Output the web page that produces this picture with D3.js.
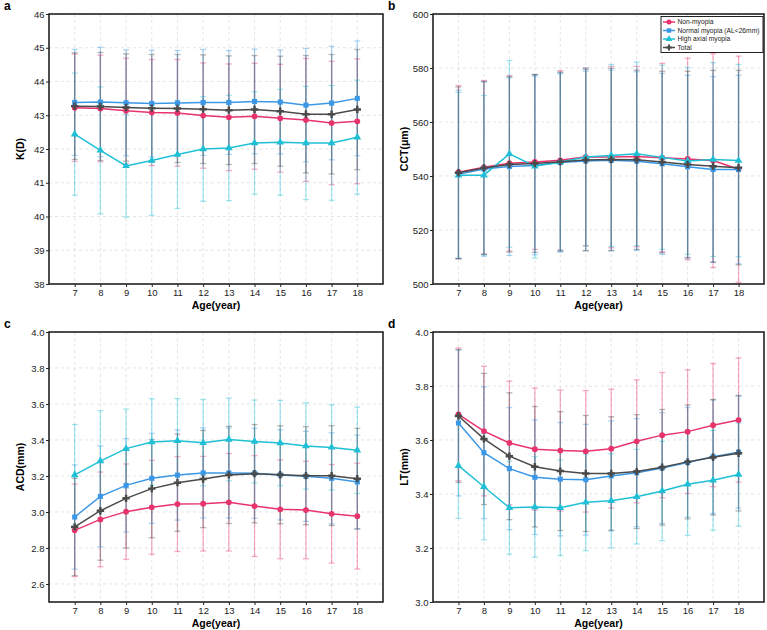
<!DOCTYPE html>
<meta charset="utf-8">
<style>
body { margin: 0; background: #fff; }
svg { font-family: "Liberation Sans", Arial, sans-serif; }
.grid line { stroke: #d9d9d9; stroke-width: 0.7px; stroke-dasharray: 3,3; }
.tick text { font-size: 9.5px; fill: #222; }
.axis path { display: none; }
.axis line { stroke: #222; }
</style>
<body>
<script src="https://d3js.org/d3.v7.min.js"></script>
<script>
var ages = [7, 8, 9, 10, 11, 12, 13, 14, 15, 16, 17, 18];
var seriesNames = ["Non-myopia", "Normal myopia (AL<26mm)", "High axial myopia", "Total"];

// K(D)
var kNon = [43.22, 43.20, 43.13, 43.08, 43.07, 42.99, 42.94, 42.97, 42.91, 42.86, 42.77, 42.82];
var kNonSD = [1.59, 1.58, 1.56, 1.57, 1.58, 1.56, 1.58, 1.57, 1.60, 1.82, 1.83, 1.85];
var kNorm = [43.38, 43.39, 43.37, 43.35, 43.36, 43.38, 43.38, 43.41, 43.39, 43.30, 43.36, 43.50];
var kNormSD = [1.57, 1.62, 1.57, 1.58, 1.56, 1.57, 1.54, 1.55, 1.54, 1.68, 1.68, 1.70];
var kHigh = [42.44, 41.96, 41.50, 41.66, 41.84, 42.00, 42.03, 42.18, 42.20, 42.18, 42.18, 42.35];
var kHighSD = [1.81, 1.88, 1.52, 1.63, 1.60, 1.55, 1.56, 1.52, 1.57, 1.68, 1.70, 1.69];
var kTotal = [43.27, 43.26, 43.23, 43.21, 43.20, 43.18, 43.15, 43.17, 43.12, 43.03, 43.03, 43.17];
var kTotalSD = [1.58, 1.60, 1.59, 1.59, 1.60, 1.61, 1.61, 1.60, 1.63, 1.74, 1.77, 1.78];

// CCT(um)
var cNon = [541.4, 543.2, 544.7, 545.2, 545.8, 547.1, 547.0, 547.2, 546.8, 546.3, 545.7, 542.5];
var cNonSD = [32.1, 32.2, 32.5, 32.4, 33.2, 33.0, 33.6, 33.4, 34.9, 37.3, 39.6, 41.9];
var cNorm = [540.6, 542.6, 543.5, 543.9, 545.0, 545.6, 545.8, 545.5, 544.5, 543.4, 542.4, 542.4];
var cNormSD = [31.2, 32.3, 32.9, 33.1, 33.2, 33.2, 33.4, 33.1, 33.5, 33.9, 34.4, 34.9];
var cHigh = [540.3, 540.3, 548.2, 543.6, 545.2, 547.0, 547.6, 548.2, 546.9, 545.6, 546.1, 545.7];
var cHighSD = [30.7, 29.5, 34.6, 34.0, 32.7, 32.9, 33.7, 34.0, 34.1, 34.6, 35.9, 35.6];
var cTotal = [541.2, 543.0, 544.3, 544.6, 545.3, 545.9, 546.1, 546.0, 545.2, 544.3, 543.6, 543.1];
var cTotalSD = [31.8, 32.0, 32.5, 32.9, 33.2, 33.6, 33.8, 33.2, 33.6, 34.5, 35.5, 36.0];

// ACD(mm)
var aNon = [2.898, 2.959, 3.002, 3.026, 3.044, 3.046, 3.054, 3.033, 3.015, 3.011, 2.990, 2.977];
var aNonSD = [0.257, 0.263, 0.265, 0.261, 0.264, 0.263, 0.271, 0.280, 0.275, 0.271, 0.274, 0.294];
var aNorm = [2.972, 3.087, 3.148, 3.187, 3.205, 3.217, 3.217, 3.215, 3.206, 3.198, 3.187, 3.167];
var aNormSD = [0.29, 0.28, 0.26, 0.25, 0.25, 0.25, 0.25, 0.25, 0.25, 0.25, 0.253, 0.26];
var aHigh = [3.206, 3.283, 3.352, 3.389, 3.396, 3.385, 3.403, 3.392, 3.383, 3.367, 3.359, 3.343];
var aHighSD = [0.28, 0.28, 0.22, 0.24, 0.234, 0.24, 0.23, 0.23, 0.237, 0.24, 0.237, 0.24];
var aTotal = [2.917, 3.007, 3.076, 3.130, 3.163, 3.183, 3.206, 3.213, 3.207, 3.202, 3.202, 3.185];
var aTotalSD = [0.27, 0.275, 0.276, 0.273, 0.27, 0.27, 0.27, 0.273, 0.272, 0.272, 0.277, 0.28];

// LT(mm)
var lNon = [3.695, 3.633, 3.589, 3.566, 3.561, 3.558, 3.568, 3.595, 3.618, 3.631, 3.655, 3.674];
var lNonSD = [0.246, 0.240, 0.229, 0.226, 0.224, 0.225, 0.220, 0.228, 0.232, 0.229, 0.228, 0.230];
var lNorm = [3.663, 3.553, 3.494, 3.462, 3.455, 3.453, 3.467, 3.479, 3.496, 3.517, 3.538, 3.555];
var lNormSD = [0.270, 0.244, 0.226, 0.212, 0.210, 0.205, 0.204, 0.200, 0.205, 0.203, 0.210, 0.207];
var lHigh = [3.505, 3.427, 3.349, 3.352, 3.349, 3.369, 3.375, 3.390, 3.411, 3.436, 3.451, 3.472];
var lHighSD = [0.195, 0.197, 0.172, 0.186, 0.177, 0.179, 0.174, 0.175, 0.184, 0.189, 0.185, 0.191];
var lTotal = [3.689, 3.604, 3.540, 3.501, 3.485, 3.476, 3.476, 3.483, 3.499, 3.519, 3.536, 3.551];
var lTotalSD = [0.246, 0.243, 0.235, 0.223, 0.220, 0.215, 0.210, 0.211, 0.214, 0.211, 0.214, 0.214];

var kTicks = [38, 39, 40, 41, 42, 43, 44, 45, 46];
var cTicks = [500, 520, 540, 560, 580, 600];
var aTicks = [2.6, 2.8, 3.0, 3.2, 3.4, 3.6, 3.8, 4.0];
var lTicks = [3.0, 3.2, 3.4, 3.6, 3.8, 4.0];

var colors = ["#e8336d", "#3a98e6", "#1fc0d6", "#4a4a4a"];
var symbols = [d3.symbolCircle, d3.symbolSquare, d3.symbolTriangle, d3.symbolCross];
var symSize = [26, 26, 26, 30];

var svg = d3.select("body").append("svg")
    .attr("width", 767)
    .attr("height", 630);

function panel(cfg) {
  var w = cfg.x1 - cfg.x0, h = cfg.y1 - cfg.y0;
  var g = svg.append("g").attr("transform", "translate(" + cfg.x0 + "," + cfg.y0 + ")");

  var x = d3.scaleLinear().domain([6, 19]).range([0, w]);
  var y = d3.scaleLinear().domain(cfg.domain).range([h, 0]);

  // grid
  var grid = g.append("g").attr("class", "grid");
  grid.selectAll(".gx").data(ages).enter().append("line")
      .attr("x1", function(d) { return x(d); }).attr("x2", function(d) { return x(d); })
      .attr("y1", 0).attr("y2", h);
  grid.selectAll(".gy").data(cfg.ticks).enter().append("line")
      .attr("x1", 0).attr("x2", w)
      .attr("y1", function(d) { return y(d); }).attr("y2", function(d) { return y(d); });

  var clipId = "clip" + cfg.label;
  g.append("clipPath").attr("id", clipId).append("rect").attr("width", w).attr("height", h);
  var plot = g.append("g").attr("clip-path", "url(#" + clipId + ")");

  // error bars (mean +/- SD)
  cfg.series.forEach(function(s, i) {
    var eb = plot.append("g")
        .attr("stroke", colors[i]).attr("stroke-opacity", 0.4).attr("stroke-width", 1.3);
    ages.forEach(function(a, j) {
      var lo = y(s.mean[j] - s.sd[j]), hi = y(s.mean[j] + s.sd[j]), cx = x(a);
      eb.append("line").attr("x1", cx).attr("x2", cx).attr("y1", lo).attr("y2", hi);
      eb.append("line").attr("x1", cx - 3).attr("x2", cx + 3).attr("y1", lo).attr("y2", lo);
      eb.append("line").attr("x1", cx - 3).attr("x2", cx + 3).attr("y1", hi).attr("y2", hi);
    });
  });

  // mean lines and markers
  var line = d3.line().x(function(d, j) { return x(ages[j]); }).y(function(d) { return y(d); });
  cfg.series.forEach(function(s, i) {
    plot.append("path").datum(s.mean)
        .attr("fill", "none").attr("stroke", colors[i]).attr("stroke-width", 1.5)
        .attr("d", line);
    plot.selectAll(".m" + i).data(s.mean).enter().append("path")
        .attr("transform", function(d, j) { return "translate(" + x(ages[j]) + "," + y(d) + ")"; })
        .attr("d", d3.symbol().type(symbols[i]).size(symSize[i]))
        .attr("fill", colors[i]);
  });

  // axes
  g.append("g").attr("class", "axis")
      .attr("transform", "translate(0," + h + ")")
      .call(d3.axisBottom(x).tickValues(ages).tickSize(3).tickPadding(2).tickFormat(d3.format("d")));
  g.append("g").attr("class", "axis")
      .call(d3.axisLeft(y).tickValues(cfg.ticks).tickSize(3).tickPadding(1.5).tickFormat(d3.format(cfg.fmt)));

  g.append("rect").attr("width", w).attr("height", h)
      .attr("fill", "none").attr("stroke", "#222").attr("stroke-width", 1.6);

  g.append("text").attr("x", w / 2).attr("y", h + 25)
      .attr("text-anchor", "middle").attr("font-size", 10.5).attr("font-weight", "bold")
      .text("Age(year)");
  g.append("text")
      .attr("transform", "translate(" + (-25) + "," + (h / 2) + ") rotate(-90)")
      .attr("text-anchor", "middle").attr("font-size", 10.5).attr("font-weight", "bold")
      .text(cfg.ylabel);
  svg.append("text").attr("x", cfg.x0 - 45).attr("y", cfg.y0 - 4.5)
      .attr("font-size", 12).attr("font-weight", "bold").text(cfg.label);

  if (cfg.legend) {
    var lg = g.append("g").attr("transform", "translate(" + (w - 103) + ",2.5)");
    lg.append("rect").attr("width", 102).attr("height", 36)
        .attr("fill", "#fff").attr("stroke", "#222").attr("stroke-width", 1);
    seriesNames.forEach(function(n, i) {
      var ly = 5.5 + i * 8.5;
      lg.append("line").attr("x1", 2).attr("x2", 14).attr("y1", ly).attr("y2", ly)
          .attr("stroke", colors[i]).attr("stroke-width", 1.5);
      lg.append("path").attr("transform", "translate(8," + ly + ")")
          .attr("d", d3.symbol().type(symbols[i]).size(20))
          .attr("fill", colors[i]);
      lg.append("text").attr("x", 16.5).attr("y", ly + 2.4)
          .attr("font-size", 6.7).attr("fill", "#222").text(n);
    });
  }
}

panel({label: "a", x0: 49, x1: 383, y0: 14, y1: 284, domain: [38, 46], ticks: kTicks, fmt: "d", ylabel: "K(D)",
  series: [{mean: kNon, sd: kNonSD}, {mean: kNorm, sd: kNormSD}, {mean: kHigh, sd: kHighSD}, {mean: kTotal, sd: kTotalSD}]});
panel({label: "b", x0: 433, x1: 764, y0: 14, y1: 284, domain: [500, 600], ticks: cTicks, fmt: "d", ylabel: "CCT(μm)", legend: true,
  series: [{mean: cNon, sd: cNonSD}, {mean: cNorm, sd: cNormSD}, {mean: cHigh, sd: cHighSD}, {mean: cTotal, sd: cTotalSD}]});
panel({label: "c", x0: 49, x1: 383, y0: 332, y1: 602, domain: [2.5, 4.0], ticks: aTicks, fmt: ".1f", ylabel: "ACD(mm)",
  series: [{mean: aNon, sd: aNonSD}, {mean: aNorm, sd: aNormSD}, {mean: aHigh, sd: aHighSD}, {mean: aTotal, sd: aTotalSD}]});
panel({label: "d", x0: 433, x1: 764, y0: 332, y1: 602, domain: [3.0, 4.0], ticks: lTicks, fmt: ".1f", ylabel: "LT(mm)",
  series: [{mean: lNon, sd: lNonSD}, {mean: lNorm, sd: lNormSD}, {mean: lHigh, sd: lHighSD}, {mean: lTotal, sd: lTotalSD}]});
</script>
</body>
